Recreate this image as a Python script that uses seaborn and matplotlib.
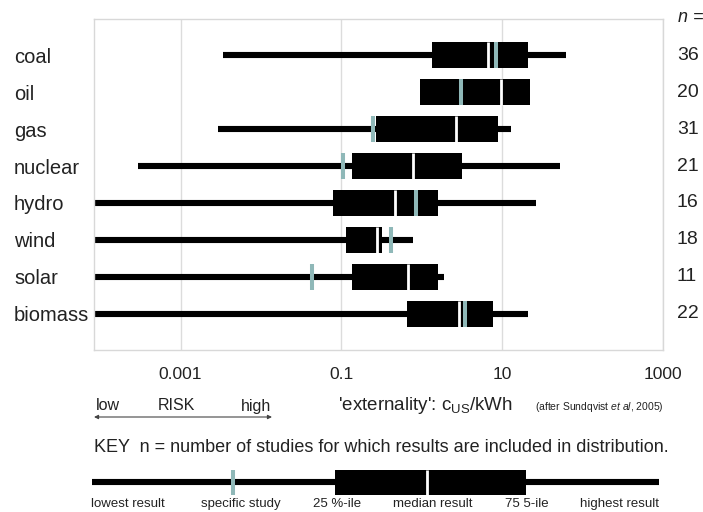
import matplotlib
matplotlib.use("Agg")
import matplotlib.pyplot as plt
import matplotlib.transforms as mtransforms
from matplotlib.ticker import FixedLocator, NullLocator
import numpy as np
import pandas as pd
import seaborn as sns

# externality cost ranges per source (c_US / kWh)
sources = ['coal', 'oil', 'gas', 'nuclear', 'hydro', 'wind', 'solar', 'biomass']
n_studies = [36, 20, 31, 21, 16, 18, 11, 22]
lowest = [0.0034, 0.95, 0.0029, 0.0003, 8.4e-5, 8.4e-5, 8.4e-5, 8.4e-5]
pct25 = [1.34, 0.95, 0.27, 0.134, 0.079, 0.113, 0.134, 0.66]
median = [6.65, 9.6, 2.65, 0.78, 0.46, 0.274, 0.68, 2.93]
pct75 = [21, 22, 8.9, 3.2, 1.58, 0.32, 1.58, 7.8]
highest = [63, 22, 12.7, 52, 26, 0.78, 1.89, 21]
specific = [8.4, 3.07, 0.245, 0.104, 0.86, 0.42, 0.043, 3.44]

x_ticks = [0.001, 0.1, 10, 1000]
x_ticklabels = ['0.001', '0.1', '10', '1000']

# illustrative values for the key bar (0 = lowest, 1 = highest)
key_stats = [0.0, 0.249, 0.429, 0.591, 0.765, 1.0]  # low, specific, q25, median, q75, high
key_labels = ['lowest result', 'specific study', '25 %-ile', 'median result', '75 5-ile', 'highest result']
key_label_pos = [0.063, 0.263, 0.432, 0.601, 0.767, 0.930]

TEAL = '#8fb8b8'
TXT = '#222222'
W, H = 703, 512

df = pd.DataFrame({
    'source': sources, 'n': n_studies, 'low': lowest, 'q25': pct25,
    'median': median, 'q75': pct75, 'high': highest, 'specific': specific,
})

sns.set_theme(style='whitegrid', rc={'axes.edgecolor': '#d8d8d8', 'grid.color': '#dcdcdc',
                                     'grid.linewidth': 1.0, 'axes.linewidth': 1.0})
plt.rcParams['font.family'] = ['Liberation Sans', 'DejaVu Sans']
plt.rcParams['mathtext.fontset'] = 'custom'
plt.rcParams['mathtext.rm'] = 'Liberation Sans'
plt.rcParams['mathtext.it'] = 'Liberation Sans:italic'


def fx(px):
    return px / W


def fy(py):
    return 1 - py / H


def draw_ranges(ax, pos, low, q25, med, q75, high, spec, height):
    ax.hlines(pos, low, high, color='black', linewidth=4.4, capstyle='butt', zorder=2)
    ax.barh(pos, np.asarray(q75) - np.asarray(q25), left=q25, height=height,
            color='black', linewidth=0, zorder=3)
    half = height / 2
    ax.vlines(spec, np.asarray(pos) - half, np.asarray(pos) + half,
              color=TEAL, linewidth=2.9, zorder=4)
    ax.vlines(med, np.asarray(pos) - half, np.asarray(pos) + half,
              color='white', linewidth=2.0, zorder=5)


fig = plt.figure(figsize=(W / 100, H / 100), dpi=100)
ax = fig.add_axes([fx(94), fy(350), fx(663) - fx(94), fy(19) - fy(350)])

rows = np.arange(len(df))
ax.set_xscale('log')
draw_ranges(ax, rows, df['low'], df['q25'], df['median'], df['q75'],
            df['high'], df['specific'], 0.68)

ax.set_xlim(8.4e-5, 1000)
ax.set_ylim(len(df) - 1 + 0.973, -0.973)
ax.xaxis.set_major_locator(FixedLocator(x_ticks))
ax.xaxis.set_minor_locator(NullLocator())
ax.set_xticklabels(x_ticklabels, fontsize=12.5, color=TXT)
ax.set_yticks(rows)
ax.set_yticklabels(df['source'], fontsize=14.5, color=TXT)
for lab in ax.get_yticklabels():
    lab.set_ha('left')
ax.tick_params(axis='y', length=0, pad=57.6)
ax.tick_params(axis='x', length=0, pad=12)
ax.grid(axis='y', visible=False)
ax.set_axisbelow(True)

# n column on the right
tr = mtransforms.blended_transform_factory(ax.transAxes, ax.transData)
for i, n in enumerate(df['n']):
    ax.text((677 - 94) / (663 - 94), i, str(n), transform=tr, ha='left', va='center',
            fontsize=14, color=TXT)
fig.text(fx(678), fy(18), 'n =', style='italic', fontsize=13, color=TXT, va='center')

# risk arrow and axis caption
fig.text(fx(96), fy(406), 'low', fontsize=11.5, color=TXT, va='center')
fig.text(fx(176), fy(406), 'RISK', fontsize=11.5, color=TXT, va='center', ha='center')
fig.text(fx(271), fy(406), 'high', fontsize=11.5, color=TXT, va='center', ha='right')
ax.annotate('', xy=(fx(272), fy(417)), xytext=(fx(94), fy(417)),
            xycoords='figure fraction', textcoords='figure fraction',
            arrowprops=dict(arrowstyle='<|-|>', color='#444444', lw=0.8,
                            mutation_scale=6, shrinkA=0, shrinkB=0))
fig.text(fx(338), fy(406), r"'externality': c$_{\mathrm{US}}$/kWh", fontsize=13.5,
         color=TXT, va='center')
fig.text(fx(664), fy(407), r'(after Sundqvist $\mathit{et\ al}$, 2005)', fontsize=7.5,
         color=TXT, va='center', ha='right')

fig.text(fx(94), fy(448), 'KEY  n = number of studies for which results are included in distribution.',
         fontsize=13, color=TXT, va='center')

# key bar
ax_key = fig.add_axes([fx(92), fy(499), fx(659) - fx(92), fy(465) - fy(499)])
k_low, k_spec, k_q25, k_med, k_q75, k_high = key_stats
draw_ranges(ax_key, [0], [k_low], [k_q25], [k_med], [k_q75], [k_high], [k_spec], 25 / 34)
ax_key.set_xlim(0, 1)
ax_key.set_ylim(-0.5, 0.5)
ax_key.axis('off')
for lab, xp in zip(key_labels, key_label_pos):
    fig.text(fx(92 + xp * (659 - 92)), fy(504), lab, fontsize=9.5, color=TXT,
             ha='center', va='center')

fig.savefig('out.png', dpi=100, facecolor='white')
